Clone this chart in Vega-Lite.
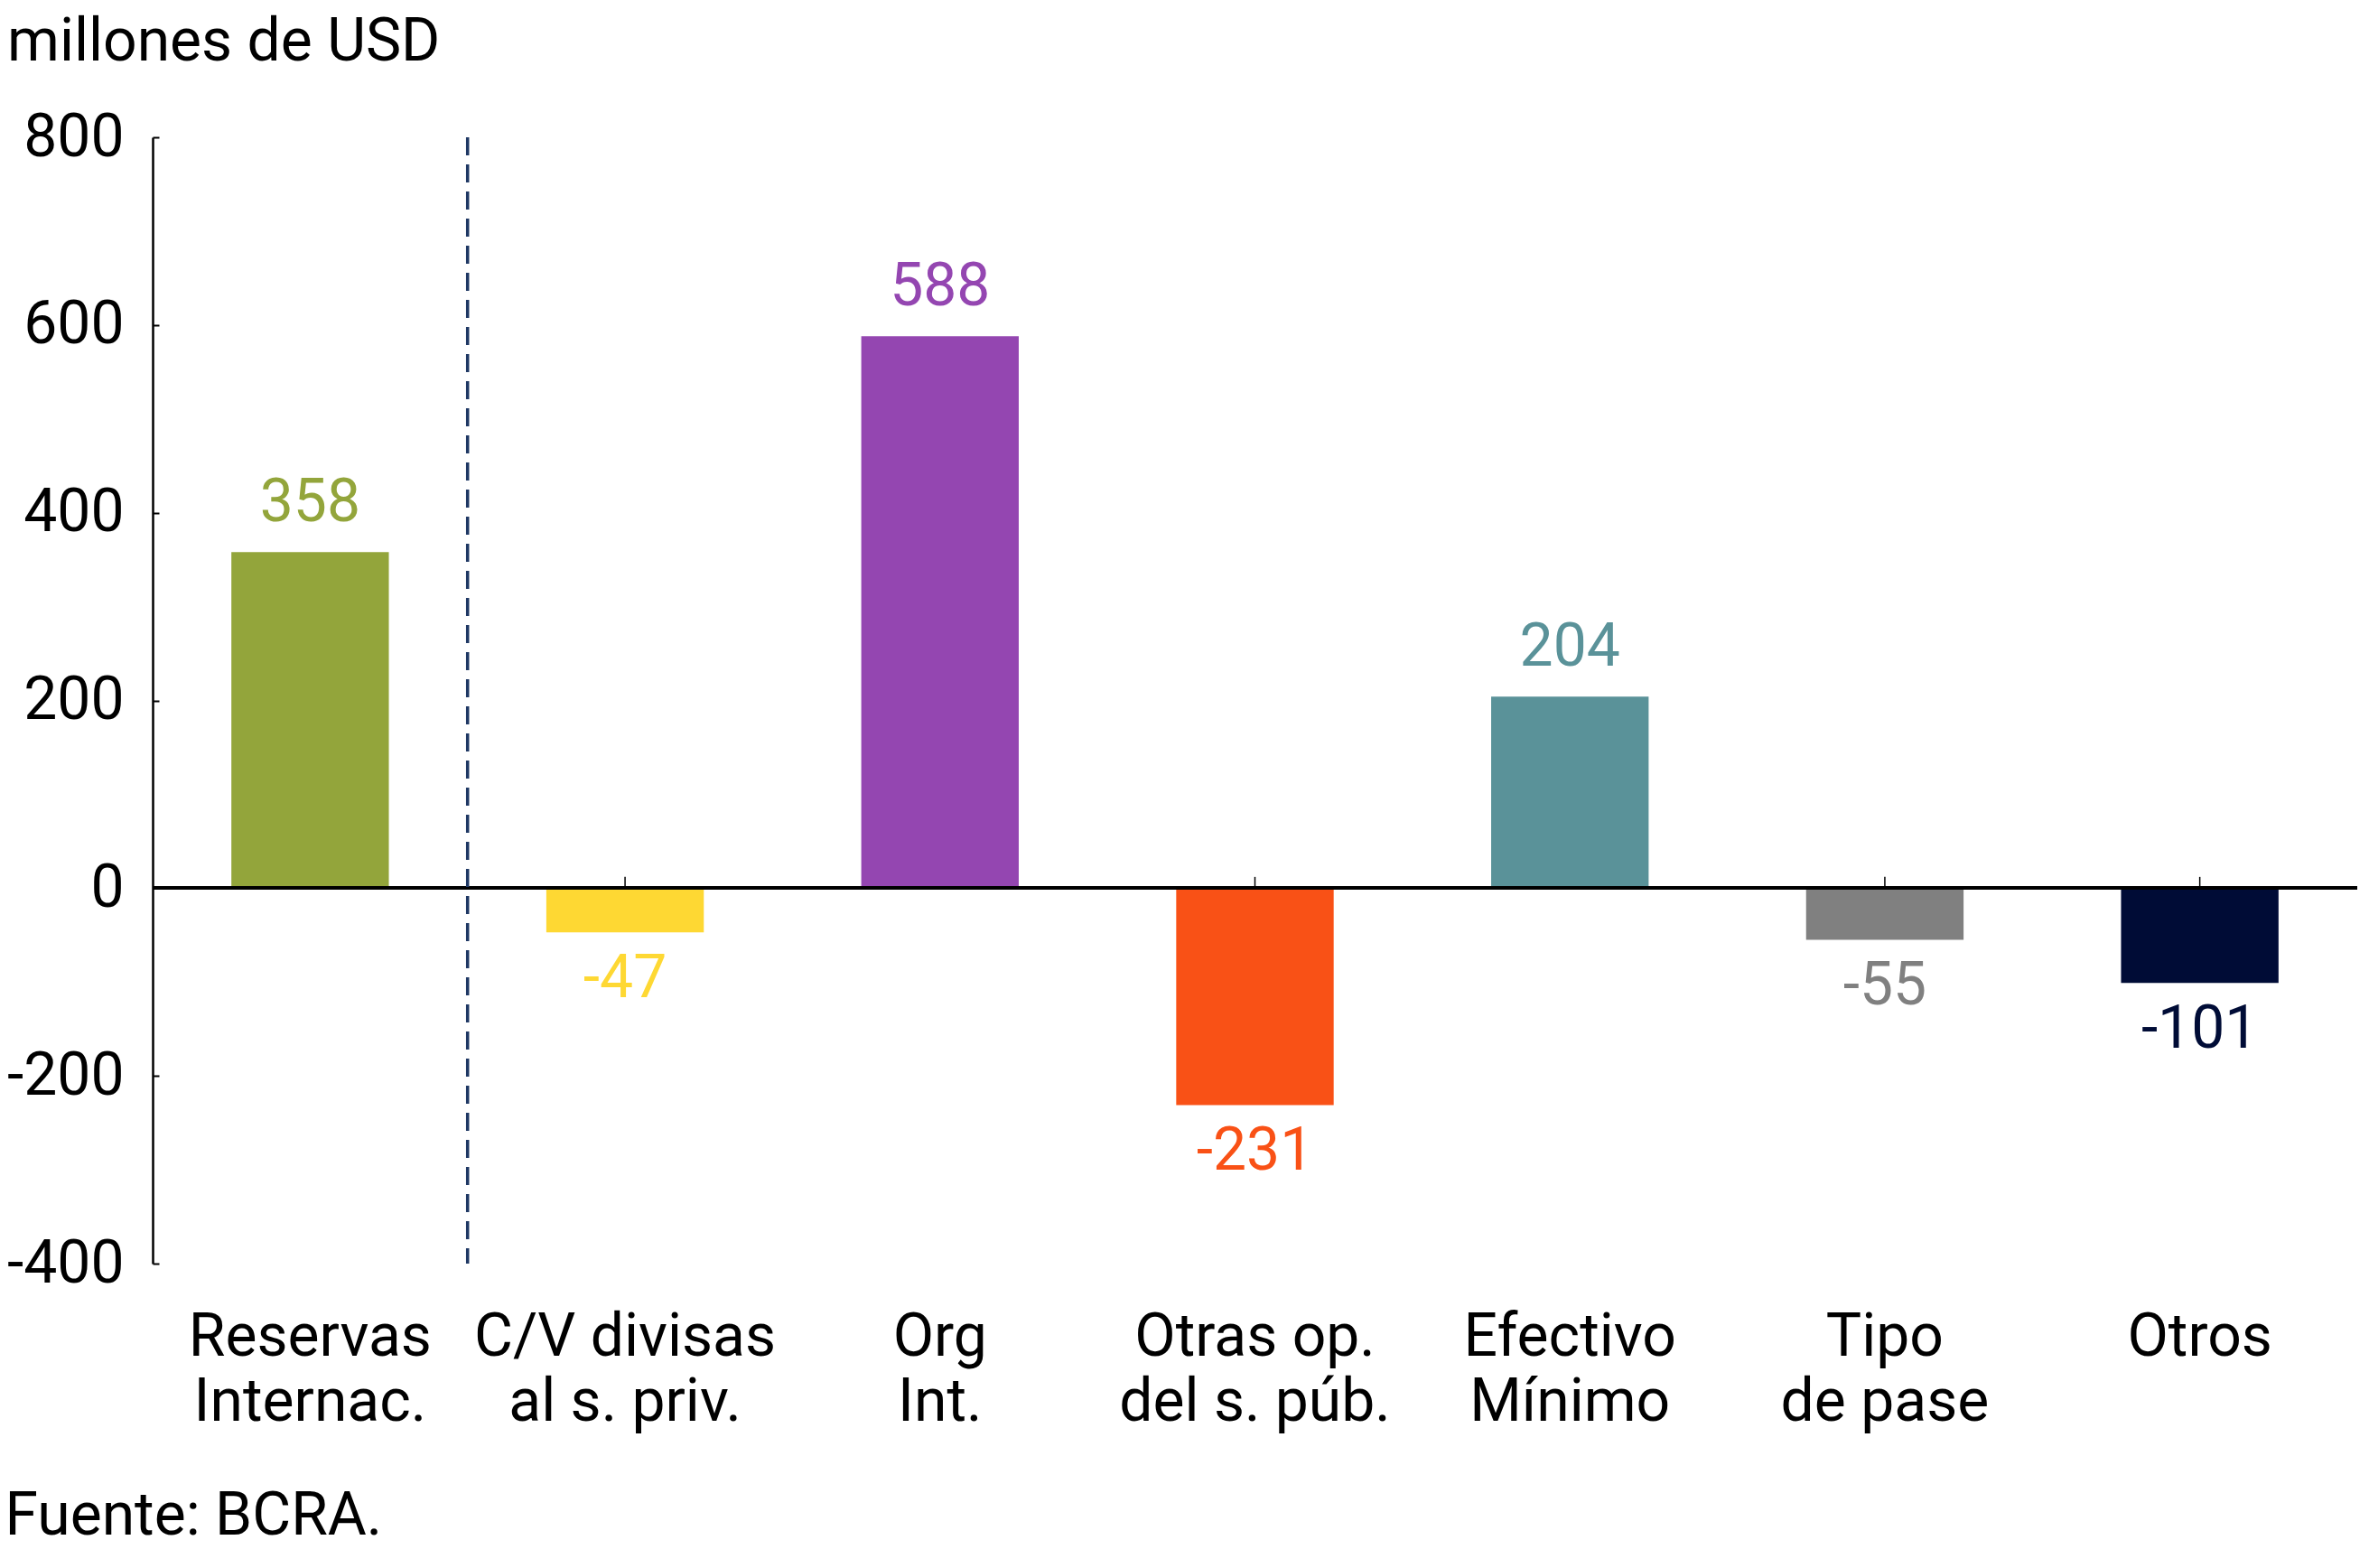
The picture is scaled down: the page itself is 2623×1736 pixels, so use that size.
{
  "$schema": "https://vega.github.io/schema/vega-lite/v6.json",
  "width": 2441,
  "height": 1247,
  "autosize": {"type": "none"},
  "padding": {"left": 169, "top": 152, "right": 13, "bottom": 337},
  "background": "white",
  "config": {"font": "Roboto", "view": {"stroke": null}},
  "title": {
    "text": "millones de USD",
    "anchor": "start",
    "frame": "group",
    "dx": -161,
    "dy": 24,
    "offset": 10,
    "baseline": "alphabetic",
    "fontSize": 66,
    "fontWeight": "normal",
    "color": "black",
    "font": "Roboto"
  },
  "data": {
    "values": [
      {"cat": "Reservas|Internac.", "value": 358},
      {"cat": "C/V divisas|al s. priv.", "value": -47},
      {"cat": "Org|Int.", "value": 588},
      {"cat": "Otras op.|del s. púb.", "value": -231},
      {"cat": "Efectivo|Mínimo", "value": 204},
      {"cat": "Tipo|de pase", "value": -55},
      {"cat": "Otros", "value": -101}
    ]
  },
  "layer": [
    {
      "mark": {"type": "rule", "color": "black", "strokeWidth": 1.5},
      "encoding": {
        "x": {"field": "cat", "type": "nominal", "sort": ["Reservas|Internac.", "C/V divisas|al s. priv.", "Org|Int.", "Otras op.|del s. púb.", "Efectivo|Mínimo", "Tipo|de pase", "Otros"], "scale": {"paddingInner": 0.5, "paddingOuter": 0.25}},
        "y": {"datum": 0, "type": "quantitative"},
        "y2": {"datum": 12}
      }
    },
    {
      "mark": {"type": "bar"},
      "encoding": {
        "x": {
          "field": "cat",
          "type": "nominal",
          "sort": ["Reservas|Internac.", "C/V divisas|al s. priv.", "Org|Int.", "Otras op.|del s. púb.", "Efectivo|Mínimo", "Tipo|de pase", "Otros"],
          "scale": {"paddingInner": 0.5, "paddingOuter": 0.25},
          "axis": {
            "title": "Fuente: BCRA.",
            "titleX": -164,
            "titleY": 299,
            "titleAlign": "left",
            "titleBaseline": "alphabetic",
            "titleFontSize": 66,
            "titleFontWeight": "normal",
            "titleColor": "black",
            "titleFont": "Roboto",
            "labelExpr": "split(datum.label, '|')",
            "labelFontSize": 66,
            "labelFont": "Roboto",
            "labelColor": "black",
            "labelLineHeight": 72,
            "labelPadding": 49,
            "labelBaseline": "top",
            "labelAlign": "center",
            "labelAngle": 0,
            "labelLimit": 0,
            "labelOverlap": false,
            "domain": false,
            "ticks": false
          }
        },
        "y": {
          "field": "value",
          "type": "quantitative",
          "scale": {"domain": [-400, 800], "nice": false},
          "axis": {
            "title": null,
            "values": [-400, -200, 0, 200, 400, 600, 800],
            "labelExpr": "'' + datum.value",
            "labelFontSize": 66,
            "labelFont": "Roboto",
            "labelColor": "black",
            "labelPadding": 39,
            "domainColor": "black",
            "domainWidth": 2.5,
            "tickColor": "black",
            "tickSize": -7,
            "tickWidth": 2,
            "grid": false
          }
        },
        "color": {
          "field": "cat",
          "type": "nominal",
          "scale": {
            "domain": ["Reservas|Internac.", "C/V divisas|al s. priv.", "Org|Int.", "Otras op.|del s. púb.", "Efectivo|Mínimo", "Tipo|de pase", "Otros"],
            "range": ["#93a53b", "#fed833", "#9446b1", "#f95116", "#5a9299", "#808080", "#000c36"]
          },
          "legend": null
        }
      }
    },
    {
      "mark": {"type": "rule", "color": "black", "strokeWidth": 3.5},
      "encoding": {"y": {"datum": 0, "type": "quantitative"}}
    },
    {
      "data": {"values": [{"cat": "Reservas|Internac."}]},
      "mark": {"type": "rule", "color": "#1f3864", "strokeWidth": 3.5, "strokeDash": [20, 10]},
      "encoding": {
        "x": {"field": "cat", "type": "nominal", "sort": ["Reservas|Internac.", "C/V divisas|al s. priv.", "Org|Int.", "Otras op.|del s. púb.", "Efectivo|Mínimo", "Tipo|de pase", "Otros"], "bandPosition": 1.5},
        "y": {"datum": 800, "type": "quantitative"},
        "y2": {"datum": -400}
      }
    },
    {
      "transform": [{"filter": "datum.value >= 0"}],
      "mark": {"type": "text", "baseline": "alphabetic", "dy": -34, "fontSize": 66, "font": "Roboto"},
      "encoding": {
        "x": {"field": "cat", "type": "nominal", "sort": ["Reservas|Internac.", "C/V divisas|al s. priv.", "Org|Int.", "Otras op.|del s. púb.", "Efectivo|Mínimo", "Tipo|de pase", "Otros"]},
        "y": {"field": "value", "type": "quantitative"},
        "text": {"field": "value", "type": "nominal"},
        "color": {"field": "cat", "type": "nominal", "legend": null}
      }
    },
    {
      "transform": [{"filter": "datum.value < 0"}],
      "mark": {"type": "text", "baseline": "alphabetic", "dy": 72, "fontSize": 66, "font": "Roboto"},
      "encoding": {
        "x": {"field": "cat", "type": "nominal", "sort": ["Reservas|Internac.", "C/V divisas|al s. priv.", "Org|Int.", "Otras op.|del s. púb.", "Efectivo|Mínimo", "Tipo|de pase", "Otros"]},
        "y": {"field": "value", "type": "quantitative"},
        "text": {"field": "value", "type": "nominal"},
        "color": {"field": "cat", "type": "nominal", "legend": null}
      }
    }
  ]
}
